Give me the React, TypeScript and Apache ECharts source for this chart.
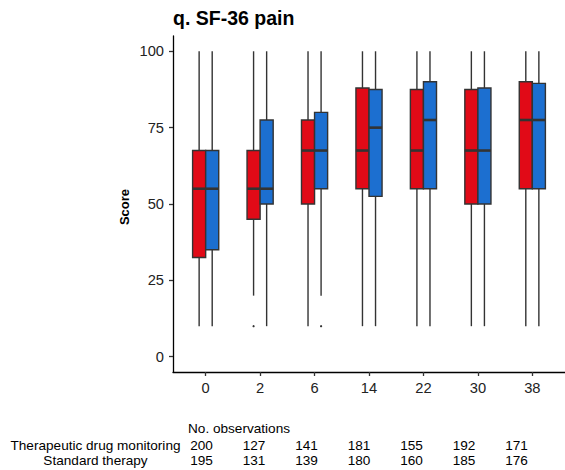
import React, { useEffect, useRef } from "react";
import * as echarts from "echarts";

const weeks = ["0", "2", "6", "14", "22", "30", "38"];
const groups = ["Therapeutic drug monitoring", "Standard therapy"];
// [low, q1, median, q3, high] per week
const tdmStats = [
  [10, 32.5, 55, 67.5, 100],
  [20, 45, 55, 67.5, 100],
  [10, 50, 67.5, 77.5, 100],
  [10, 55, 67.5, 88, 100],
  [10, 55, 67.5, 87.5, 100],
  [10, 50, 67.5, 87.5, 100],
  [10, 55, 77.5, 90, 100],
];
const stdStats = [
  [10, 35, 55, 67.5, 100],
  [10, 50, 55, 77.5, 100],
  [20, 55, 67.5, 80, 100],
  [10, 52.5, 75, 87.5, 100],
  [10, 55, 77.5, 90, 100],
  [10, 50, 67.5, 88, 100],
  [10, 55, 77.5, 89.5, 100],
];
// outliers: [weekIndex, groupIndex, value]
const outliers = [
  [1, 0, 10],
  [2, 1, 10],
];
const tdmCounts = [200, 127, 141, 181, 155, 192, 171];
const stdCounts = [195, 131, 139, 180, 160, 185, 176];
const yTicks = [0, 25, 50, 75, 100];

const colors = ["#E10A17", "#1C6FD0"];
const FONT = "Liberation Sans, Arial, sans-serif";
const BOX_W = 0.24;

export default function App() {
  const ref = useRef<HTMLDivElement>(null);
  useEffect(() => {
    if (!ref.current) return;
    const chart = echarts.init(ref.current, null, { renderer: "svg" });

    const boxData: number[][] = [];
    tdmStats.forEach((s, i) => boxData.push([i, 0, ...s]));
    stdStats.forEach((s, i) => boxData.push([i, 1, ...s]));

    const tf = `13.6px ${FONT}`;
    const tableTexts: any[] = [];
    tableTexts.push({
      type: "text",
      x: 188,
      y: 428,
      style: { text: "No. observations", font: tf, fill: "#000", textAlign: "left", textVerticalAlign: "middle" },
    });
    groups.forEach((g, gi) => {
      tableTexts.push({
        type: "text",
        x: 95.5,
        y: 445 + gi * 15.7,
        style: { text: g, font: tf, fill: "#000", textAlign: "center", textVerticalAlign: "middle" },
      });
    });
    [tdmCounts, stdCounts].forEach((arr, gi) => {
      arr.forEach((n, i) => {
        tableTexts.push({
          type: "text",
          x: 201.5 + i * 52.5,
          y: 445 + gi * 15.7,
          style: { text: String(n), font: tf, fill: "#000", textAlign: "center", textVerticalAlign: "middle" },
        });
      });
    });

    chart.setOption({
      animation: false,
      grid: { left: 173, top: 36, width: 395.6, height: 336, containLabel: false },
      xAxis: {
        type: "value",
        min: -0.6,
        max: 6.6,
        splitLine: { show: false },
        axisLine: { show: true, onZero: false, lineStyle: { color: "#000", width: 1.3 } },
        axisTick: { show: true, customValues: weeks.map((_, i) => i), length: 4, lineStyle: { color: "#333", width: 1.3 } },
        axisLabel: {
          show: true,
          customValues: weeks.map((_, i) => i),
          formatter: (v: number) => weeks[Math.round(v)] ?? "",
          color: "#222",
          fontSize: 14.7,
          fontFamily: FONT,
          margin: 8,
        },
      },
      yAxis: {
        type: "value",
        min: -5,
        max: 105,
        splitLine: { show: false },
        axisLine: { show: true, onZero: false, lineStyle: { color: "#000", width: 1.3 } },
        axisTick: { show: true, customValues: yTicks, length: 4, lineStyle: { color: "#333", width: 1.3 } },
        axisLabel: {
          show: true,
          customValues: yTicks,
          color: "#222",
          fontSize: 14.7,
          fontFamily: FONT,
          margin: 9,
        },
      },
      graphic: [
        {
          type: "text",
          x: 173,
          y: 17.5,
          style: { text: "q. SF-36 pain", font: `bold 19.5px ${FONT}`, fill: "#000", textAlign: "left", textVerticalAlign: "middle" },
        },
        {
          type: "text",
          x: 124,
          y: 207,
          rotation: Math.PI / 2,
          style: { text: "Score", font: `bold 13px ${FONT}`, fill: "#000", textAlign: "center", textVerticalAlign: "middle" },
        },
        ...tableTexts,
      ],
      series: [
        {
          type: "custom",
          data: boxData,
          clip: false,
          renderItem: (params: any, api: any) => {
            const xi = api.value(0);
            const g = api.value(1);
            const low = api.value(2);
            const q1 = api.value(3);
            const med = api.value(4);
            const q3 = api.value(5);
            const high = api.value(6);
            const x0 = g === 0 ? xi - BOX_W : xi;
            const x1 = g === 0 ? xi : xi + BOX_W;
            const xc = (x0 + x1) / 2;
            const pLow = api.coord([xc, low]);
            const pHigh = api.coord([xc, high]);
            const pQ1L = api.coord([x0, q1]);
            const pQ3R = api.coord([x1, q3]);
            const pMedL = api.coord([x0, med]);
            const pMedR = api.coord([x1, med]);
            const pQ1 = api.coord([xc, q1]);
            const pQ3 = api.coord([xc, q3]);
            const stroke = "#333";
            return {
              type: "group",
              children: [
                { type: "line", shape: { x1: pLow[0], y1: pLow[1], x2: pQ1[0], y2: pQ1[1] }, style: { stroke, lineWidth: 1.4 } },
                { type: "line", shape: { x1: pQ3[0], y1: pQ3[1], x2: pHigh[0], y2: pHigh[1] }, style: { stroke, lineWidth: 1.4 } },
                {
                  type: "rect",
                  shape: { x: pQ1L[0], y: pQ3R[1], width: pQ3R[0] - pQ1L[0], height: pQ1L[1] - pQ3R[1] },
                  style: { fill: colors[g], stroke, lineWidth: 1.4 },
                },
                { type: "line", shape: { x1: pMedL[0], y1: pMedL[1], x2: pMedR[0], y2: pMedR[1] }, style: { stroke, lineWidth: 2.6 } },
              ],
            };
          },
        },
        {
          type: "custom",
          data: outliers,
          clip: false,
          renderItem: (params: any, api: any) => {
            const xi = api.value(0);
            const g = api.value(1);
            const xc = g === 0 ? xi - BOX_W / 2 : xi + BOX_W / 2;
            const p = api.coord([xc, api.value(2)]);
            return { type: "circle", shape: { cx: p[0], cy: p[1], r: 1.1 }, style: { fill: "#333" } };
          },
        },
      ],
    });
    return () => chart.dispose();
  }, []);
  return <div ref={ref} style={{ width: 565, height: 470, position: "absolute", left: 0, top: 0, background: "#fff" }} />;
}
